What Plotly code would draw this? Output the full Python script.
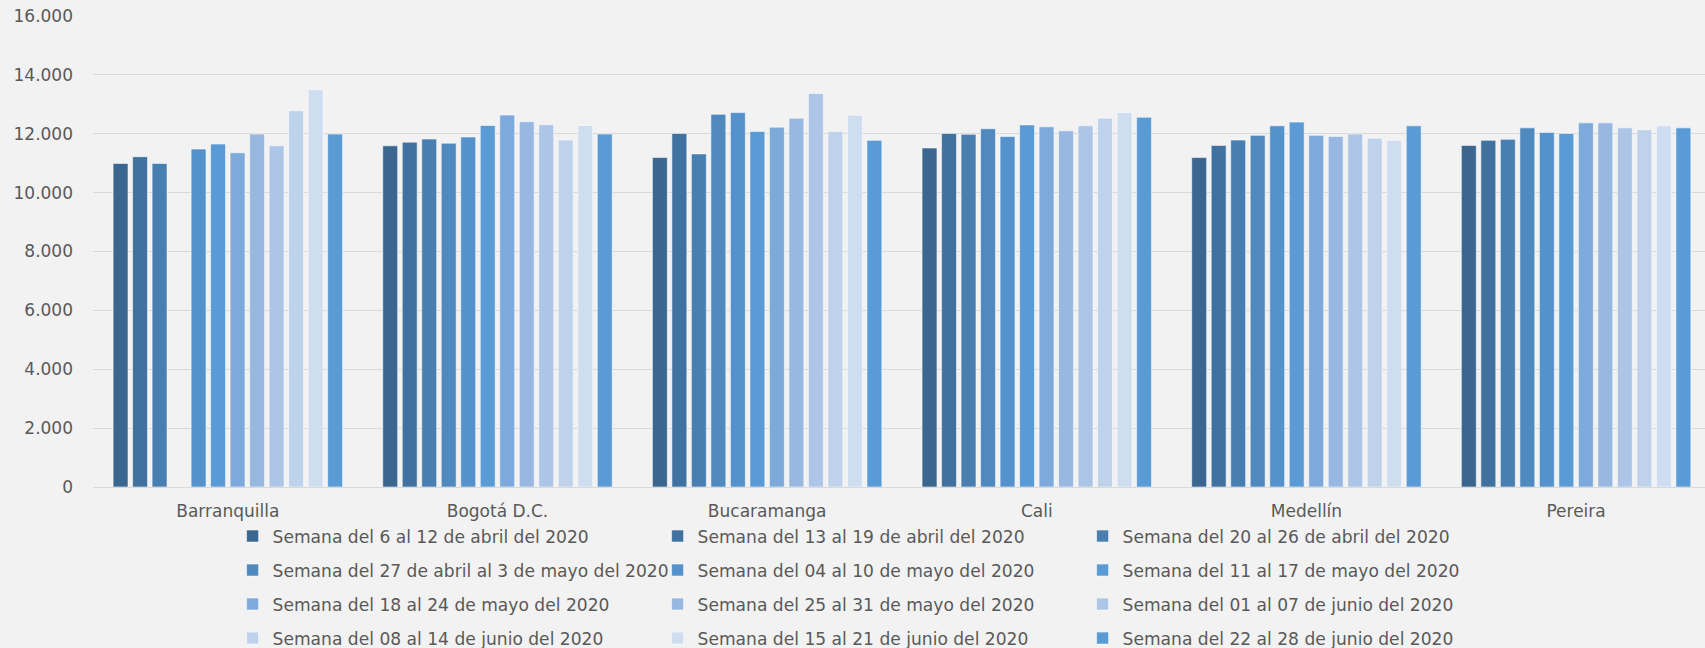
import plotly.graph_objects as go

cities = ["Barranquilla", "Bogotá D.C.", "Bucaramanga", "Cali", "Medellín", "Pereira"]

weeks = [
    "Semana del 6 al 12 de abril del 2020",
    "Semana del 13 al 19 de abril del 2020",
    "Semana del 20 al 26 de abril del 2020",
    "Semana del 27 de abril al 3 de mayo del 2020",
    "Semana del 04 al 10 de mayo del 2020",
    "Semana del 11 al 17 de mayo del 2020",
    "Semana del 18 al 24 de mayo del 2020",
    "Semana del 25 al 31 de mayo del 2020",
    "Semana del 01 al 07 de junio del 2020",
    "Semana del 08 al 14 de junio del 2020",
    "Semana del 15 al 21 de junio del 2020",
    "Semana del 22 al 28 de junio del 2020",
]

barranquilla = [10990, 11220, 10990, None, 11480, 11650, 11355, 11990, 11590, 12780, 13495, 11990]
bogota = [11590, 11715, 11820, 11680, 11890, 12280, 12635, 12410, 12305, 11785, 12280, 11990]
bucaramanga = [11190, 12010, 11315, 12660, 12720, 12080, 12225, 12530, 13370, 12080, 12630, 11775]
cali = [11515, 12010, 11980, 12170, 11910, 12300, 12235, 12100, 12270, 12530, 12720, 12560]
medellin = [11190, 11605, 11785, 11945, 12270, 12395, 11945, 11910, 11990, 11845, 11775, 12270]
pereira = [11605, 11775, 11810, 12200, 12045, 12010, 12370, 12370, 12200, 12135, 12270, 12200]

city_values = [barranquilla, bogota, bucaramanga, cali, medellin, pereira]

colors = ["#3a6690", "#41729f", "#497eb0", "#4f89be", "#5592cb", "#5b9bd5",
          "#7eaadb", "#98b8e1", "#adc5e6", "#bfd2ec", "#cfddf0", "#5b9bd5"]

FONT = "DejaVu Sans"
TXT = "#595959"
LEG_IDS = ["legend", "legend2", "legend3", "legend4"]

fig = go.Figure()
for i, name in enumerate(weeks):
    fig.add_trace(go.Bar(
        x=cities,
        y=[vals[i] for vals in city_values],
        name=name,
        legend=LEG_IDS[i // 3],
        marker=dict(color=colors[i], line=dict(color="rgba(255,255,255,0.55)", width=1)),
    ))

legend_common = dict(
    orientation="h", x=0.0866, xanchor="left", yanchor="top",
    font=dict(family=FONT, size=17.1, color=TXT),
    entrywidth=380, entrywidthmode="pixels",
    traceorder="normal", bgcolor="rgba(0,0,0,0)",
)
leg_layout = {}
for r, lid in enumerate(LEG_IDS):
    leg_layout[lid] = dict(legend_common, y=-0.0667 - r * 0.0722)

fig.update_layout(
    width=1705, height=648,
    barmode="group", bargap=0.132, bargroupgap=0.235,
    paper_bgcolor="#f2f2f2", plot_bgcolor="#f2f2f2",
    margin=dict(l=93, r=0, t=16, b=161, autoexpand=False),
    separators=",.",
    font=dict(family=FONT, color=TXT, size=17),
    showlegend=True,
    xaxis=dict(
        type="category", range=[-0.5, 5.478], showgrid=False, showline=False,
        ticks="", ticklabelstandoff=12, tickfont=dict(family=FONT, size=17, color=TXT),
    ),
    yaxis=dict(
        range=[0, 16000], dtick=2000, tickformat=",d",
        showgrid=True, gridcolor="#d9d9d9", gridwidth=1,
        zeroline=True, zerolinecolor="#d9d9d9", zerolinewidth=1,
        showline=False, ticks="", ticklabelstandoff=19,
        tickfont=dict(family=FONT, size=17, color=TXT),
    ),
    **leg_layout,
)

fig.write_html("out.html", config={"displayModeBar": False},
               post_script="document.body.style.margin='0';")
